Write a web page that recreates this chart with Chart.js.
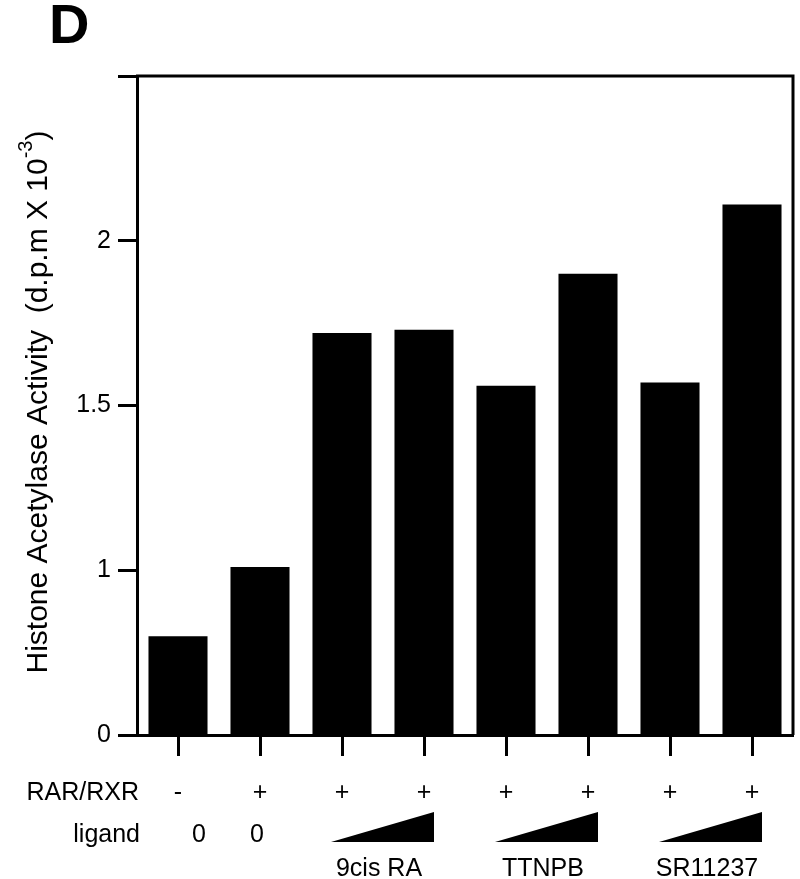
<!DOCTYPE html>
<html>
<head>
<meta charset="utf-8">
<title>Histone Acetylase Activity</title>
<script src="https://cdn.jsdelivr.net/npm/chart.js@4.4.0/dist/chart.umd.min.js"></script>
<style>
  html, body { margin: 0; padding: 0; background: #fff; }
  #wrap { width: 800px; height: 879px; }
</style>
</head>
<body>
<div id="wrap"><canvas id="hatChart"></canvas></div>
<script>
// lanes left to right
const lanes = ['lane 1', 'lane 2', 'lane 3', 'lane 4', 'lane 5', 'lane 6', 'lane 7', 'lane 8']
const activity = [0.8, 1.01, 1.72, 1.73, 1.56, 1.9, 1.57, 2.11]

// the axis is broken: the bottom tick sits at 0.5 but is labelled 0
const yTickValues = [0.5, 1, 1.5, 2, 2.5]
const yTickLabels = ['0', '1', '1.5', '2', '']

// condition rows under the bars
const rarRxr = ['-', '+', '+', '+', '+', '+', '+', '+']
const ligandDose = ['0', '0', '', '', '', '', '', '']
const ligandNames = ['9cis RA', 'TTNPB', 'SR11237']
const ligandLanes = [[2, 3], [4, 5], [6, 7]]

const FONT = '"Liberation Sans", Arial, Helvetica, sans-serif'

const figureExtras = {
  id: 'figureExtras',
  afterDraw(chart) {
    const ctx = chart.ctx
    const area = chart.chartArea
    const xs = chart.scales.x
    ctx.save()

    // top and right edges of the box
    ctx.strokeStyle = '#000'
    ctx.lineWidth = 3
    ctx.beginPath()
    ctx.moveTo(area.left - 1, area.top)
    ctx.lineTo(area.right, area.top)
    ctx.lineTo(area.right, area.bottom)
    ctx.stroke()

    // panel letter
    ctx.fillStyle = '#000'
    ctx.font = 'bold 56px ' + FONT
    ctx.textAlign = 'left'
    ctx.textBaseline = 'alphabetic'
    ctx.fillText('D', 49, 43)

    // y axis title, with superscript exponent
    const main = 'Histone Acetylase Activity  (d.p.m X 10'
    ctx.save()
    ctx.translate(47, 402)
    ctx.rotate(-Math.PI / 2)
    ctx.font = '30px ' + FONT
    const wMain = ctx.measureText(main).width
    const wClose = ctx.measureText(')').width
    ctx.font = '20px ' + FONT
    const wSup = ctx.measureText('-3').width
    const total = wMain + wSup + wClose
    let cx = -total / 2
    ctx.font = '30px ' + FONT
    ctx.fillText(main, cx, 0)
    cx += wMain
    ctx.font = '20px ' + FONT
    ctx.fillText('-3', cx, -15)
    cx += wSup
    ctx.font = '30px ' + FONT
    ctx.fillText(')', cx, 0)
    ctx.restore()

    // row captions
    ctx.font = '25px ' + FONT
    ctx.textAlign = 'right'
    ctx.fillText('RAR/RXR', 139, 800)
    ctx.fillText('ligand', 140, 842)

    // + / - and ligand dose
    ctx.textAlign = 'center'
    rarRxr.forEach((s, i) => {
      ctx.fillText(s, xs.getPixelForValue(i), 800)
    })
    ligandDose.forEach((s, i) => {
      if (!s) return
      const dx = i === 0 ? 21 : -3
      ctx.fillText(s, xs.getPixelForValue(i) + dx, 842)
    })

    // dose wedges and ligand names
    ligandLanes.forEach(([a, b], k) => {
      const mid = (xs.getPixelForValue(a) + xs.getPixelForValue(b)) / 2
      const left = mid - 52
      const right = mid + 51
      ctx.beginPath()
      ctx.moveTo(left, 842)
      ctx.lineTo(right, 842)
      ctx.lineTo(right, 812)
      ctx.closePath()
      ctx.fill()
      ctx.fillText(ligandNames[k], mid - 4, 876)
    })

    ctx.restore()
  },
}

const ctx = document.getElementById('hatChart').getContext('2d')
new Chart(ctx, {
  type: 'bar',
  data: {
    labels: lanes,
    datasets: [
      {
        data: activity,
        backgroundColor: '#000',
        borderWidth: 0,
        barPercentage: 0.72,
        categoryPercentage: 1.0,
      },
    ],
  },
  options: {
    responsive: true,
    maintainAspectRatio: false,
    animation: false,
    layout: {
      padding: { top: 76, right: 7, left: 0, bottom: 0 },
    },
    plugins: {
      legend: { display: false },
      tooltip: { enabled: false },
    },
    scales: {
      x: {
        grid: {
          offset: false,
          drawOnChartArea: false,
          tickLength: 21,
          tickWidth: 3,
          tickColor: '#000',
          color: '#000',
        },
        border: { color: '#000', width: 3 },
        ticks: { display: false },
        afterFit(scale) {
          scale.height = 144
        },
      },
      y: {
        min: 0.5,
        max: 2.5,
        afterBuildTicks(scale) {
          scale.ticks = yTickValues.map((v) => ({ value: v }))
        },
        ticks: {
          color: '#000',
          padding: 7,
          font: { family: FONT, size: 25 },
          callback: (v) => yTickLabels[yTickValues.indexOf(v)],
        },
        grid: {
          drawOnChartArea: false,
          tickLength: 19,
          tickWidth: 3,
          tickColor: '#000',
          color: '#000',
        },
        border: { color: '#000', width: 3 },
        afterFit(scale) {
          scale.width = 137
        },
      },
    },
  },
  plugins: [figureExtras],
})
</script>
</body>
</html>
